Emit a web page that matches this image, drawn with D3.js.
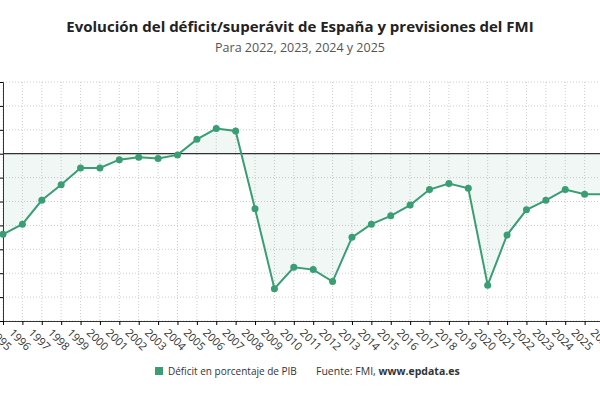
<!DOCTYPE html>
<html><head><meta charset="utf-8">
<script src="https://cdn.jsdelivr.net/npm/d3@7"></script>
<style>body{margin:0;background:#fff;font-family:"Open Sans",sans-serif;}</style>
</head><body>
<script>
var years = d3.range(1995, 2027);
var deficit = [-6.75,-5.9,-3.9,-2.6,-1.2,-1.2,-0.5,-0.3,-0.4,-0.1,1.2,2.1,1.9,-4.6,-11.3,-9.5,-9.7,-10.7,-7.0,-5.9,-5.2,-4.3,-3.0,-2.5,-2.9,-11.0,-6.8,-4.7,-3.9,-3.0,-3.4,-3.4];
var yTicks = d3.range(-14, 7, 2);

var width = 600, height = 400;
var color = "#3a9e74";
var svg = d3.select("body").append("svg").attr("width", width).attr("height", height);

svg.append("text").attr("x", 300).attr("y", 32).attr("text-anchor", "middle")
	.attr("font-size", 15).attr("font-weight", "bold").attr("fill", "#222")
	.text("Evolución del déficit/superávit de España y previsiones del FMI");
svg.append("text").attr("x", 300).attr("y", 52).attr("text-anchor", "middle")
	.attr("font-size", 12.5).attr("fill", "#555")
	.text("Para 2022, 2023, 2024 y 2025");

var x = d3.scalePoint().domain(years).range([3, 604]);
var y = d3.scaleLinear().domain([-14, 6]).range([321, 82]);

var data = years.map(function(d, i){ return {year: d, v: deficit[i]}; });

var grid = svg.append("g").attr("stroke", "#ccc").attr("stroke-dasharray", "1,2");
grid.selectAll(".h").data(yTicks).enter().append("line")
	.attr("x1", 3).attr("x2", 600).attr("y1", function(d){return y(d);}).attr("y2", function(d){return y(d);});
grid.selectAll(".v").data(years).enter().append("line")
	.attr("x1", function(d){return x(d);}).attr("x2", function(d){return x(d);}).attr("y1", 82).attr("y2", 321);

svg.append("path").datum(data)
	.attr("fill", color).attr("fill-opacity", 0.08)
	.attr("d", d3.area().x(function(d){return x(d.year);}).y0(y(0)).y1(function(d){return y(d.v);}));

svg.append("line").attr("x1", 3).attr("x2", 600).attr("y1", y(0)).attr("y2", y(0))
	.attr("stroke", "#333").attr("stroke-width", 1.3);

var yAxis = svg.append("g").attr("transform", "translate(3,0)")
	.call(d3.axisLeft(y).tickValues(yTicks).tickSize(3).tickFormat(""));
yAxis.select(".domain").attr("stroke", "#333");

var xAxis = svg.append("g").attr("transform", "translate(0,321)")
	.call(d3.axisBottom(x).tickSize(4));
xAxis.select(".domain").attr("stroke", "#333");
xAxis.selectAll("text").attr("font-size", 11).attr("fill", "#333")
	.attr("font-family", "Open Sans, sans-serif")
	.attr("text-anchor", "start").attr("transform", "translate(-4,2) rotate(45)");

svg.append("path").datum(data)
	.attr("fill", "none").attr("stroke", color).attr("stroke-width", 2)
	.attr("d", d3.line().x(function(d){return x(d.year);}).y(function(d){return y(d.v);}));

svg.selectAll("circle").data(data).enter().append("circle")
	.attr("cx", function(d){return x(d.year);}).attr("cy", function(d){return y(d.v);})
	.attr("r", 3.5).attr("fill", color);

var lg = svg.append("g").attr("transform", "translate(155,375)");
lg.append("rect").attr("x", 0).attr("y", -8).attr("width", 8).attr("height", 8).attr("fill", color);
lg.append("text").attr("x", 13).attr("y", 0).attr("font-size", 10).attr("fill", "#333").text("Déficit en porcentaje de PIB");
var src = svg.append("text").attr("x", 316).attr("y", 375).attr("font-size", 10.5).attr("fill", "#333");
src.append("tspan").text("Fuente: FMI, ");
src.append("tspan").attr("font-weight", "bold").text("www.epdata.es");
</script>
</body></html>
